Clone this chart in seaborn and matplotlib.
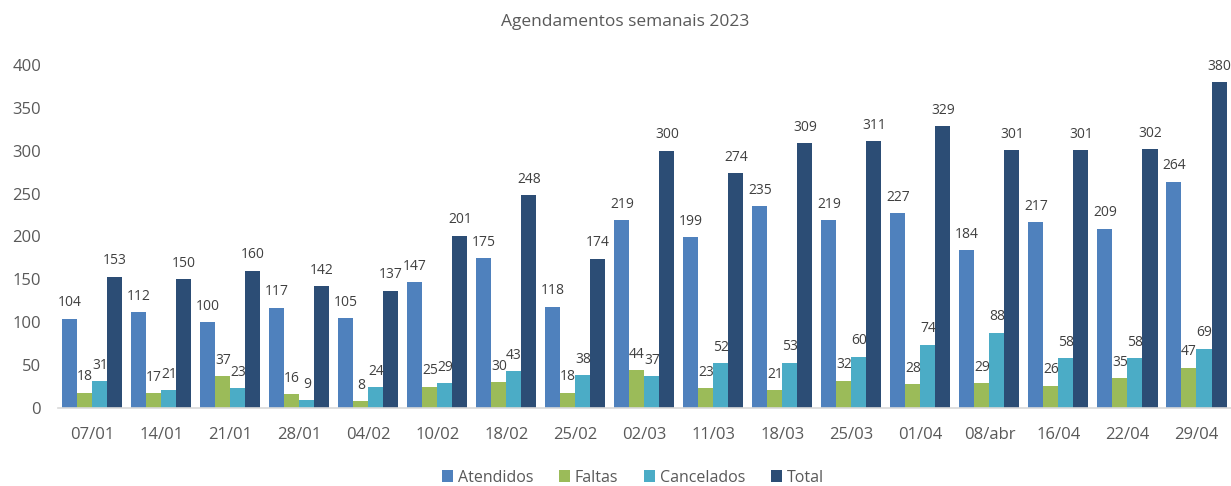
import pandas as pd
import matplotlib
matplotlib.use("Agg")
import matplotlib.pyplot as plt
import seaborn as sns

semanas = ["07/01", "14/01", "21/01", "28/01", "04/02", "10/02", "18/02", "25/02", "02/03",
           "11/03", "18/03", "25/03", "01/04", "08/abr", "16/04", "22/04", "29/04"]
atendidos = [104, 112, 100, 117, 105, 147, 175, 118, 219, 199, 235, 219, 227, 184, 217, 209, 264]
faltas = [18, 17, 37, 16, 8, 25, 30, 18, 44, 23, 21, 32, 28, 29, 26, 35, 47]
cancelados = [31, 21, 23, 9, 24, 29, 43, 38, 37, 52, 53, 60, 74, 88, 58, 58, 69]
total = [153, 150, 160, 142, 137, 201, 248, 174, 300, 274, 309, 311, 329, 301, 301, 302, 380]

series = ["Atendidos", "Faltas", "Cancelados", "Total"]
cores = ["#4F81BD", "#9BBB59", "#4BACC6", "#2C4D75"]
texto = "#595959"

df = pd.DataFrame({"semana": semanas * 4,
                   "serie": [s for s in series for _ in semanas],
                   "valor": atendidos + faltas + cancelados + total})

sns.set_style("white")
plt.rcParams["font.family"] = ["Open Sans", "DejaVu Sans"]

fig = plt.figure(figsize=(12.31, 4.86), dpi=100)
ax = fig.add_axes([0.047, 0.1605, 0.953, 0.7058])

sns.barplot(data=df, x="semana", y="valor", hue="serie", palette=cores,
            width=0.87, saturation=1, linewidth=0, ax=ax)

# rótulos de dados acima das barras
for cont in ax.containers:
    ax.bar_label(cont, fmt="%d", padding=6, fontsize=10, color="#404040", clip_on=False)

ax.set_ylim(0, 400)
ax.set_xlim(-0.5, len(semanas) - 0.5)
ax.set_yticks(range(0, 401, 50))
ax.tick_params(axis="both", length=0, labelsize=12, colors=texto)
ax.tick_params(axis="y", pad=12)
ax.tick_params(axis="x", pad=14)
ax.set_xlabel("")
ax.set_ylabel("")
for s in ["top", "right", "left"]:
    ax.spines[s].set_visible(False)
ax.spines["bottom"].set_color("#D9D9D9")
ax.spines["bottom"].set_linewidth(1.2)

fig.text(0.508, 0.955, "Agendamentos semanais 2023", ha="center", va="center",
         fontsize=12.5, color=texto)

ax.legend(loc="center", bbox_to_anchor=(0.49, -0.203), ncol=4, frameon=False,
          fontsize=11.5, handlelength=0.7, handleheight=0.7, handletextpad=0.3,
          columnspacing=1.6, labelcolor=texto, borderpad=0.1)

fig.savefig("out.png", dpi=100)
